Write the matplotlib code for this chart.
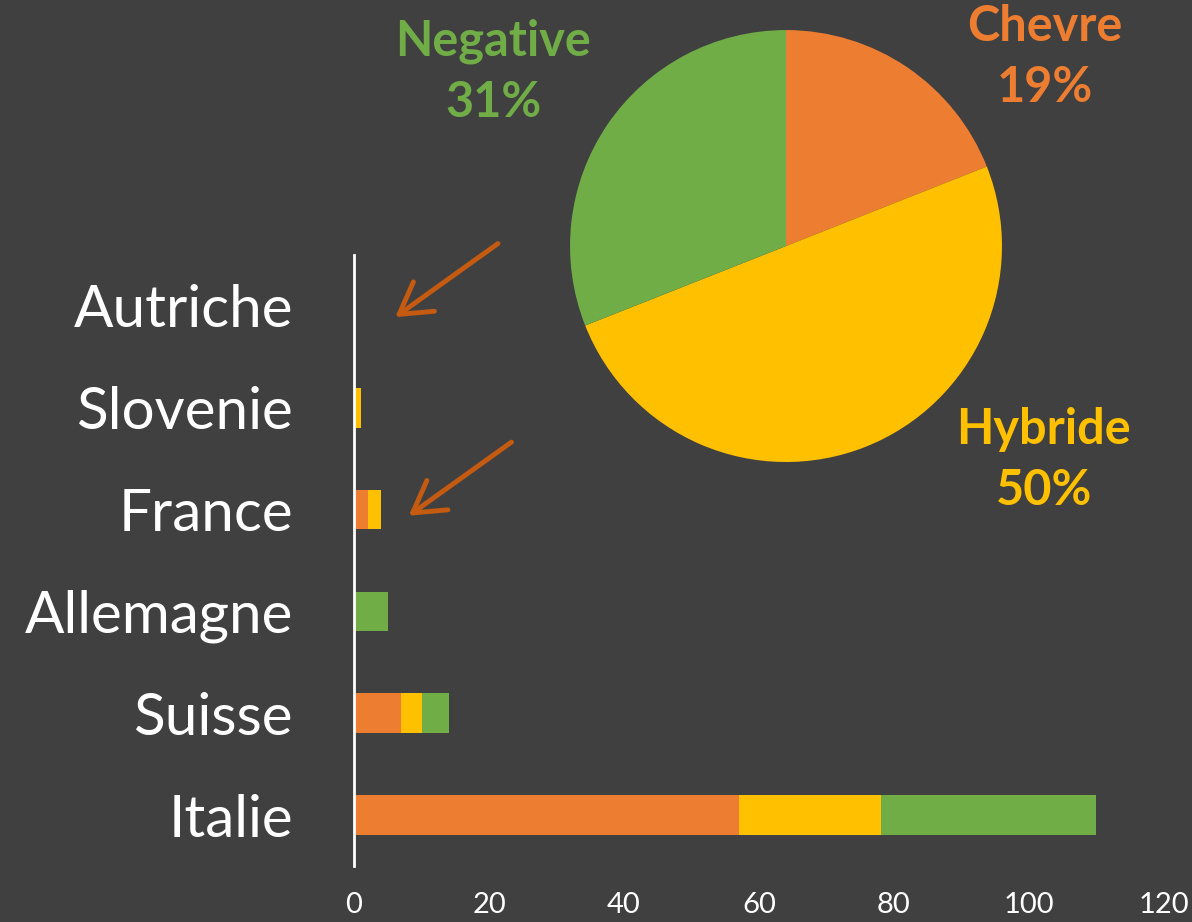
import matplotlib
matplotlib.use("Agg")
from matplotlib import pyplot as plt

# bar chart data (bottom to top)
countries = ['Italie', 'Suisse', 'Allemagne', 'France', 'Slovenie', 'Autriche']
chevre = [57, 7, 0, 2, 0, 0]
hybride = [21, 3, 0, 2, 1, 0]
negative = [32, 4, 5, 0, 0, 0]
xticks = [0, 20, 40, 60, 80, 100, 120]

# pie chart data
pie_labels = ['Chevre', 'Hybride', 'Negative']
pie_values = [19, 50, 31]

BG = '#404040'
ORANGE = '#ed7d31'
YELLOW = '#ffc000'
GREEN = '#70ad47'
ARROW = '#c55a11'

plt.rcParams['font.family'] = ['Lato', 'DejaVu Sans']

fig = plt.figure(figsize=(11.92, 9.22), dpi=100, facecolor=BG)

# stacked horizontal bars
ax = fig.add_axes([0.297, 0.0607, 0.6795, 0.6627], facecolor=BG)
ys = list(range(len(countries)))
left2 = [a + b for a, b in zip(chevre, hybride)]
ax.barh(ys, chevre, height=0.39, color=ORANGE)
ax.barh(ys, hybride, height=0.39, left=chevre, color=YELLOW)
ax.barh(ys, negative, height=0.39, left=left2, color=GREEN)
ax.set_xlim(0, 120)
ax.set_ylim(-0.5, 5.5)
ax.set_yticks(ys)
ax.set_yticklabels(countries, fontsize=42, color='white')
ax.set_xticks(xticks)
ax.set_xticklabels([str(t) for t in xticks], fontsize=21, color='white')
ax.tick_params(axis='both', length=0)
ax.tick_params(axis='y', pad=44)
ax.tick_params(axis='x', pad=19)
for s in ['top', 'right', 'bottom']:
    ax.spines[s].set_visible(False)
ax.spines['left'].set_color('white')
ax.spines['left'].set_linewidth(2)

# arrows pointing at Autriche and France
for target in [(6.1, 4.89), (8.1, 2.94)]:
    ax.annotate('', xy=target, xytext=(74, 53), textcoords='offset points',
                arrowprops=dict(arrowstyle='->,head_length=1.1,head_width=0.65',
                                color=ARROW, lw=3.5, mutation_scale=20,
                                shrinkA=0, shrinkB=0))

# pie
pax = fig.add_axes([0.4782, 0.4989, 0.3624, 0.4685])
pax.pie(pie_values, colors=[ORANGE, YELLOW, GREEN], startangle=90,
        counterclock=False, radius=1)
pax.set_xlim(-1, 1)
pax.set_ylim(-1, 1)
pax.set_aspect('equal')
label_pos = [(1.20, 0.875), (1.194, -0.99), (-1.356, 0.806)]
label_cols = [ORANGE, YELLOW, GREEN]
for name, val, (px, py), c in zip(pie_labels, pie_values, label_pos, label_cols):
    pax.text(px, py, f'{name}\n{val}%', ha='center', va='center',
             fontsize=35, fontweight='bold', color=c, linespacing=1.42,
             clip_on=False)

fig.savefig('out.png', dpi=100, facecolor=BG)
